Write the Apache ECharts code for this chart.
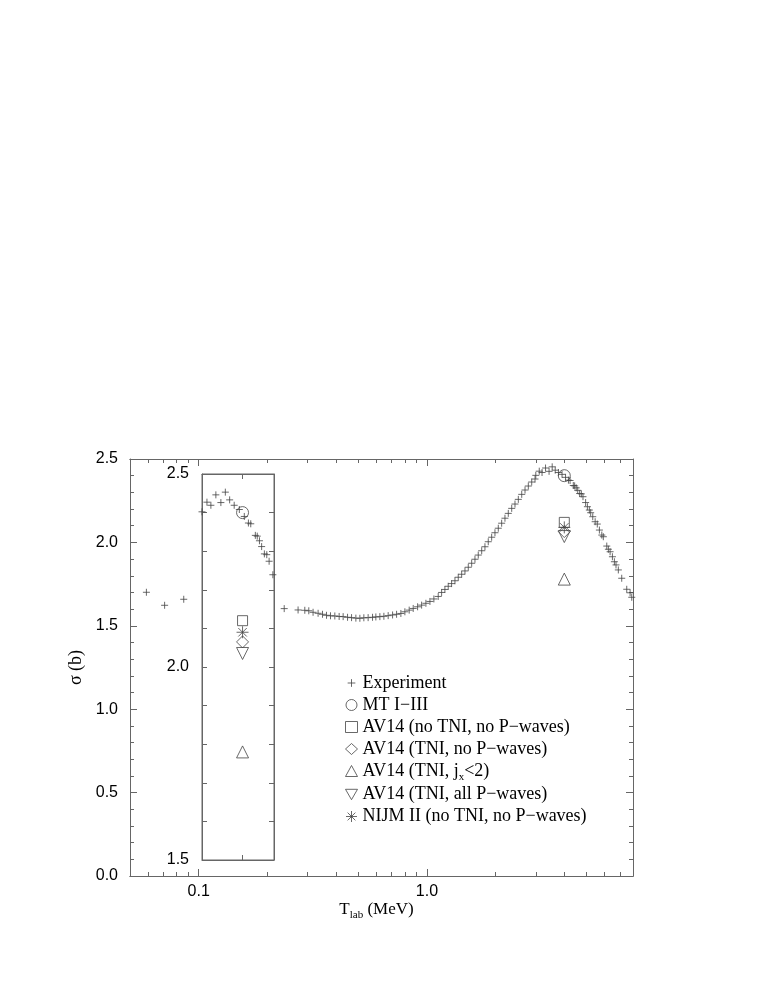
<!DOCTYPE html>
<html>
<head>
<meta charset="utf-8">
<script src="https://cdn.jsdelivr.net/npm/echarts@6.0.0/dist/echarts.min.js"></script>
<style>
  html, body { margin: 0; padding: 0; background: #fff; }
  #chart { width: 763px; height: 987px; }
</style>
</head>
<body>
<div id="chart"></div>
<script>
// experimental cross section, T_lab (MeV) vs sigma (b)
const expT = [
  0.059, 0.0709, 0.086, 0.237, 0.2726, 0.2917, 0.3037, 0.3171, 0.3336, 0.3487,
  0.3631, 0.3781, 0.3949, 0.4125, 0.4295, 0.449, 0.4675, 0.4883, 0.5084, 0.5293,
  0.5527, 0.5778, 0.5974, 0.6221, 0.6478, 0.6766, 0.7073, 0.7364, 0.7691, 0.8008,
  0.8363, 0.871, 0.9104, 0.948, 0.9899, 1.031, 1.073, 1.121, 1.16, 1.199,
  1.24, 1.283, 1.327, 1.372, 1.42, 1.468, 1.518, 1.571, 1.624, 1.679,
  1.738, 1.796, 1.857, 1.922, 1.987, 2.055, 2.126, 2.198, 2.273, 2.353,
  2.432, 2.515, 2.603, 2.691, 2.782, 2.879, 2.977, 3.0, 3.107, 3.195,
  3.31, 3.43, 3.54, 3.65, 3.77, 3.91, 4.05, 4.17, 4.24, 4.38,
  4.44, 4.51, 4.58, 4.67, 4.75, 4.83, 4.96, 5.05, 5.15, 5.22,
  5.33, 5.46, 5.58, 5.7, 5.84, 5.93, 6.14, 6.24, 6.35, 6.5,
  6.63, 6.74, 6.9, 7.14, 7.51, 7.77, 7.9
]
const expSigma = [
  1.701, 1.623, 1.659, 1.603, 1.595, 1.593, 1.59, 1.581, 1.575, 1.569,
  1.563, 1.56, 1.559, 1.556, 1.555, 1.551, 1.549, 1.546, 1.545, 1.548,
  1.549, 1.551, 1.553, 1.555, 1.557, 1.561, 1.565, 1.569, 1.574, 1.584,
  1.594, 1.604, 1.614, 1.624, 1.635, 1.646, 1.661, 1.676, 1.7, 1.718,
  1.737, 1.753, 1.77, 1.791, 1.809, 1.829, 1.851, 1.875, 1.899, 1.924,
  1.95, 1.974, 2.004, 2.031, 2.058, 2.085, 2.115, 2.145, 2.174, 2.204,
  2.23, 2.258, 2.288, 2.314, 2.338, 2.362, 2.38, 2.402, 2.427, 2.419,
  2.446, 2.426, 2.453, 2.433, 2.419, 2.408, 2.39, 2.373, 2.371, 2.341,
  2.339, 2.327, 2.312, 2.293, 2.291, 2.274, 2.239, 2.214, 2.194, 2.178,
  2.154, 2.124, 2.11, 2.074, 2.044, 2.034, 1.978, 1.959, 1.944, 1.914,
  1.884, 1.865, 1.835, 1.785, 1.719, 1.698, 1.671
]

// calculations, all at one energy
const theoryT = 4.0
const theoryNames = [
  'MT I\u2212III',
  'AV14 (no TNI, no P\u2212waves)',
  'AV14 (TNI, no P\u2212waves)',
  'AV14 (TNI, jx<2)',
  'AV14 (TNI, all P\u2212waves)',
  'NIJM II (no TNI, no P\u2212waves)'
]
const theorySigma = [2.40, 2.12, 2.065, 1.78, 2.035, 2.09]

// ticks
const majorTicksX = [0.1, 1]
const minorTicksX = [0.05, 0.06, 0.07, 0.08, 0.09, 0.2, 0.3, 0.4, 0.5, 0.6, 0.7, 0.8, 0.9, 2, 3, 4, 5, 6, 7, 8]
const insetTicksX = [4]

const plusSymbol = 'path://M-5,-5M5,5M-3.5,0L3.5,0M0,-3.5L0,3.5'
const starSymbol = 'path://M0,-1L0,1M-1,0L1,0M-0.707,-0.707L0.707,0.707M-0.707,0.707L0.707,-0.707'
const downTriangle = 'path://M0,0L2,0L1,1.732Z'
const theorySymbols = ['circle', 'rect', 'diamond', 'triangle', downTriangle, starSymbol]
const theorySizes = [12, 10, 12, 12, 12, 12]

const lineColor = '#666'
const markColor = '#444'
const sans = 'Liberation Sans'
const serif = 'Liberation Serif'

const chart = echarts.init(document.getElementById('chart'))

const expData = expT.map((t, i) => [t, expSigma[i]])

const markStyle = { color: 'transparent', borderColor: markColor, borderWidth: 1 }

const makeSeries = (xAxisIndex, yAxisIndex) => {
  const list = [{
    name: 'Experiment',
    type: 'scatter',
    xAxisIndex, yAxisIndex,
    symbol: plusSymbol,
    symbolSize: 10,
    data: expData,
    itemStyle: markStyle,
    emphasis: { disabled: true },
    z: 3
  }]
  theoryNames.forEach((name, i) => {
    list.push({
      name,
      type: 'scatter',
      xAxisIndex, yAxisIndex,
      symbol: theorySymbols[i],
      symbolSize: theorySizes[i],
      data: [[theoryT, theorySigma[i]]],
      itemStyle: markStyle,
      emphasis: { disabled: true },
      z: 4
    })
  })
  return list
}

const tickLabelStyle = { fontFamily: sans, fontSize: 16, color: '#000' }

const logX = (gridIndex, position, min, max, ticks, len, extra) => Object.assign({
  type: 'log',
  logBase: 10,
  gridIndex,
  position,
  min,
  max,
  axisLine: { show: true, lineStyle: { color: lineColor, width: 1 } },
  axisTick: { show: true, inside: true, length: len, customValues: ticks, lineStyle: { color: lineColor } },
  axisLabel: { show: false },
  splitLine: { show: false },
  minorTick: { show: false },
  minorSplitLine: { show: false }
}, extra || {})

const linY = (gridIndex, position, min, max, major, minor, showLabel, margin) => ({
  type: 'value',
  gridIndex,
  position,
  min,
  max,
  interval: 0.5,
  axisLine: { show: true, lineStyle: { color: lineColor, width: 1 } },
  axisTick: { show: true, inside: true, length: major, lineStyle: { color: lineColor } },
  minorTick: { show: true, splitNumber: 5, length: minor, lineStyle: { color: lineColor } },
  axisLabel: Object.assign({ show: showLabel, margin, formatter: v => v.toFixed(1) }, tickLabelStyle),
  splitLine: { show: false },
  minorSplitLine: { show: false }
})

const option = {
  animation: false,
  backgroundColor: '#fff',
  grid: [
    { left: 130, top: 459, width: 503, height: 417, show: false },
    { left: 202, top: 474, width: 72, height: 386, show: true, backgroundColor: '#fff', borderColor: lineColor, borderWidth: 1 }
  ],
  xAxis: [
    logX(0, 'bottom', 0.05, 8, majorTicksX, 7, {
      axisLabel: Object.assign({ show: true, margin: 8, customValues: majorTicksX, formatter: v => Number(v).toFixed(1) }, tickLabelStyle),
      name: '{t|T}{s|lab}{t| (MeV)}',
      nameLocation: 'middle',
      nameGap: 21,
      nameTextStyle: {
        padding: [0, 10, 0, 0],
        rich: {
          t: { fontFamily: serif, fontSize: 17, color: '#000' },
          s: { fontFamily: serif, fontSize: 11, color: '#000', padding: [12, 0, 0, 0] }
        }
      }
    }),
    logX(0, 'bottom', 0.05, 8, minorTicksX, 4),
    logX(0, 'top', 0.05, 8, majorTicksX, 7),
    logX(0, 'top', 0.05, 8, minorTicksX, 4),
    logX(1, 'bottom', 3, 5, insetTicksX, 5),
    logX(1, 'top', 3, 5, insetTicksX, 5)
  ],
  yAxis: [
    Object.assign(linY(0, 'left', 0, 2.5, 7, 4, true, 12), {
      name: '\u03c3 (b)',
      nameLocation: 'middle',
      nameGap: 43,
      nameRotate: 90,
      nameTextStyle: { fontFamily: serif, fontSize: 18, color: '#000' }
    }),
    linY(0, 'right', 0, 2.5, 7, 4, false, 8),
    linY(1, 'left', 1.5, 2.5, 5, 5, true, 13),
    linY(1, 'right', 1.5, 2.5, 5, 5, false, 8)
  ],
  legend: {
    orient: 'vertical',
    left: 345,
    top: 673,
    padding: 0,
    itemWidth: 12,
    itemHeight: 11,
    itemGap: 2,
    selectedMode: false,
    itemStyle: { color: 'transparent', borderColor: markColor, borderWidth: 1 },
    data: ['Experiment'].concat(theoryNames),
    formatter: name => name === 'AV14 (TNI, jx<2)' ? 'AV14 (TNI, j{s|x}<2)' : name,
    textStyle: {
      fontFamily: serif,
      fontSize: 18,
      color: '#000',
      lineHeight: 20,
      rich: {
        s: { fontFamily: serif, fontSize: 11, color: '#000', padding: [12, 0, 0, 0] }
      }
    }
  },
  series: makeSeries(0, 0).concat(makeSeries(4, 2))
}

chart.setOption(option)
</script>
</body>
</html>
